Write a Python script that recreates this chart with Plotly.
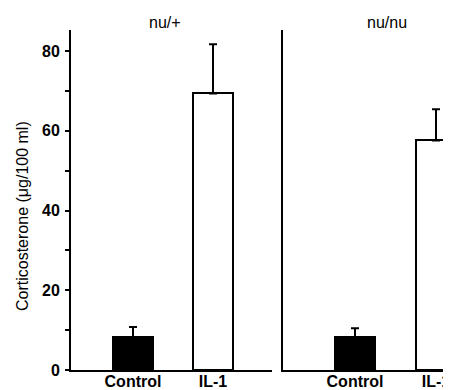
import plotly.graph_objects as go

categories = ["Control", "IL-1"]
panels = ["nu/+", "nu/nu"]
means_het = [8.3, 69.4]
err_het = [2.5, 12.3]
means_nude = [8.3, 57.6]
err_nude = [2.2, 7.8]
fills = ["black", "white"]
y_ticks = [0, 20, 40, 60, 80]
y_minor = [10, 30, 50, 70]

# the page body adds an 8px offset; figure pixel = target pixel - OFF
OFF = 8
W, H = 451, 400
FONT = "Liberation Sans, Arial, sans-serif"


def px_x(p):
    return (p - OFF) / W


def px_y(p):
    return (H - (p - OFF)) / H


fig = go.Figure()
for i, (m, e) in enumerate([(means_het, err_het), (means_nude, err_nude)]):
    xa = "x" if i == 0 else "x2"
    ya = "y" if i == 0 else "y2"
    fig.add_trace(go.Bar(
        x=categories, y=m, xaxis=xa, yaxis=ya, width=0.5,
        marker=dict(color=fills, line=dict(color="black", width=2)),
        error_y=dict(type="data", symmetric=False, array=e,
                     arrayminus=[0] * len(e), color="black",
                     thickness=2, width=4),
        showlegend=False,
    ))

ydom = [px_y(370), px_y(30)]
yrange = [0, 85.3]
xfont = dict(size=16, weight="bold", family=FONT, color="black")

fig.update_layout(
    width=W, height=H,
    margin=dict(l=0, r=0, t=0, b=0),
    paper_bgcolor="white", plot_bgcolor="white",
    font=dict(family=FONT, color="black"),
    bargap=0,
    xaxis=dict(domain=[px_x(71), px_x(272)], range=[-0.775, 1.7375],
               showline=True, linewidth=2, linecolor="black",
               ticks="", showgrid=False, zeroline=False, automargin=False,
               tickfont=xfont, ticklabelstandoff=-4, anchor="y"),
    xaxis2=dict(domain=[px_x(283), 1.0], range=[-0.889, 1.284],
                showline=True, linewidth=2, linecolor="black",
                ticks="", showgrid=False, zeroline=False, automargin=False,
                tickfont=xfont, ticklabelstandoff=-4, anchor="y2"),
    yaxis=dict(domain=ydom, range=yrange, anchor="x",
               showline=True, linewidth=2, linecolor="black",
               ticks="outside", ticklen=4, tickwidth=2, tickcolor="black",
               tickvals=y_ticks,
               minor=dict(tickvals=y_minor, ticks="outside", ticklen=4,
                          tickwidth=2, tickcolor="black"),
               ticklabelstandoff=2,
               showgrid=False, zeroline=False, automargin=False,
               tickfont=xfont),
    yaxis2=dict(domain=ydom, range=yrange, anchor="x2",
                showline=True, linewidth=2, linecolor="black",
                ticks="", showticklabels=False,
                showgrid=False, zeroline=False, automargin=False),
)

fig.add_annotation(text=panels[0], x=px_x(165), y=px_y(22),
                   xref="paper", yref="paper", showarrow=False,
                   xanchor="center", yanchor="middle",
                   font=dict(size=16, family=FONT))
fig.add_annotation(text=panels[1], x=px_x(387), y=px_y(22),
                   xref="paper", yref="paper", showarrow=False,
                   xanchor="center", yanchor="middle",
                   font=dict(size=16, family=FONT))
fig.add_annotation(text="Corticosterone (μg/100 ml)", x=px_x(22), y=px_y(216),
                   xref="paper", yref="paper", showarrow=False, textangle=-90,
                   xanchor="center", yanchor="middle",
                   font=dict(size=16, family=FONT))

fig.write_html("out.html")
